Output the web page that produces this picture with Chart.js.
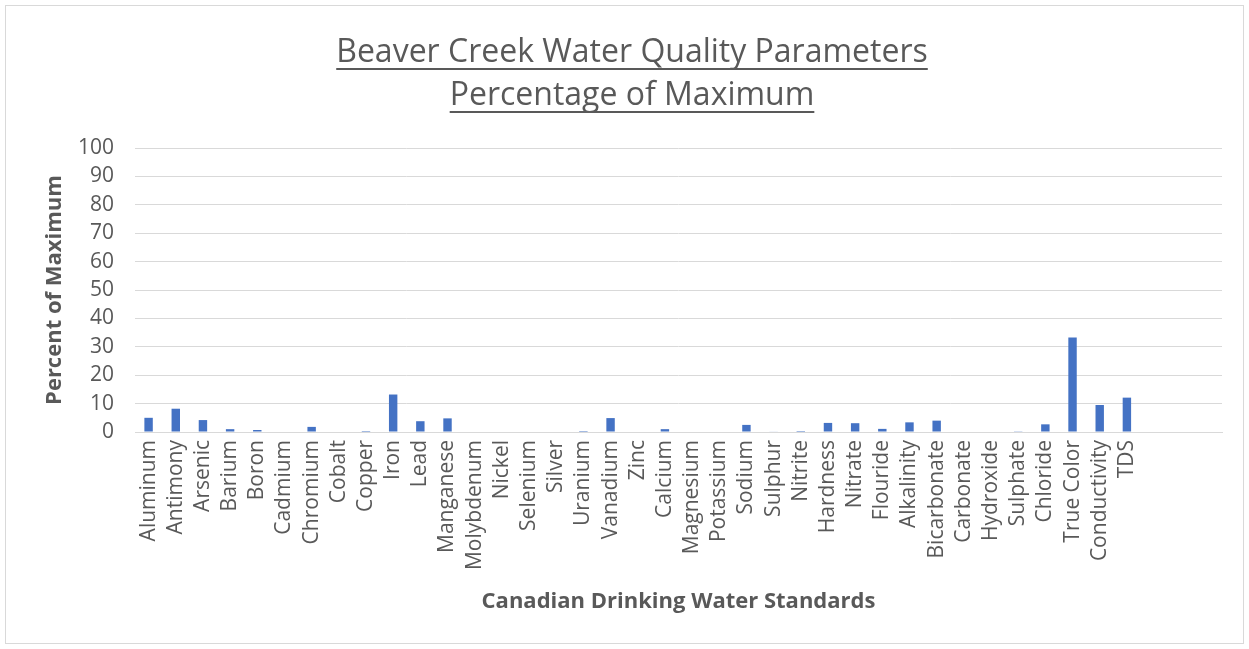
<!DOCTYPE html>
<html>
<head>
<meta charset="utf-8">
<script src="https://cdn.jsdelivr.net/npm/chart.js@4.4.1/dist/chart.umd.min.js"></script>
<style>
  html, body { margin: 0; padding: 0; background: #fff; }
  #wrap { position: absolute; left: 0; top: 0; width: 1249px; height: 649px; }
</style>
</head>
<body>
<div id="wrap"><canvas id="myChart" width="1249" height="649"></canvas></div>
<script>
// parameters along the x axis (last three slots are empty in the original)
var parameters = ["Aluminum","Antimony","Arsenic","Barium","Boron","Cadmium","Chromium","Cobalt","Copper","Iron",
  "Lead","Manganese","Molybdenum","Nickel","Selenium","Silver","Uranium","Vanadium","Zinc","Calcium",
  "Magnesium","Potassium","Sodium","Sulphur","Nitrite","Hardness","Nitrate","Flouride","Alkalinity","Bicarbonate",
  "Carbonate","Hydroxide","Sulphate","Chloride","True Color","Conductivity","TDS","","",""];

// percent of maximum
var percentOfMax = [5.0,8.2,4.2,1.0,0.7,0,1.8,0,0.35,13.2,
  3.8,4.8,0,0,0,0,0.35,4.9,0,1.0,
  0,0,2.5,0.15,0.35,3.2,3.1,1.1,3.4,4.0,
  0,0,0.1,2.7,33.3,9.5,12.1,null,null,null];

var yTicks = [0,10,20,30,40,50,60,70,80,90,100];

var titleLines = ["Beaver Creek Water Quality Parameters", "Percentage of Maximum"];

var textGray = "#595959";
var gridGray = "#d9d9d9";
var fontName = "'Open Sans', sans-serif";

// excel style underline under title + outer frame
var extras = {
  id: "extras",
  beforeDraw: function(chart) {
    var ctx = chart.ctx;
    ctx.save();
    ctx.strokeStyle = gridGray;
    ctx.lineWidth = 1;
    ctx.strokeRect(5.5, 5.5, 1238, 638);
    ctx.restore();
  },
  afterDraw: function(chart) {
    var tb = chart.titleBlock;
    var opts = chart.options.plugins.title;
    var size = opts.font.size;
    var lh = size * opts.font.lineHeight;
    var ctx = chart.ctx;
    ctx.save();
    ctx.font = size + "px " + fontName;
    ctx.strokeStyle = textGray;
    ctx.lineWidth = 2;
    var cx = (tb.left + tb.right) / 2;
    for (var i = 0; i < titleLines.length; i++) {
      var w = ctx.measureText(titleLines[i]).width;
      var y = Math.round(tb.top + opts.padding.top + lh * (i + 0.5) + size * 0.5);
      ctx.beginPath();
      ctx.moveTo(cx - w / 2, y);
      ctx.lineTo(cx + w / 2, y);
      ctx.stroke();
    }
    ctx.restore();
  }
};

var myChart = new Chart("myChart", {
  type: "bar",
  data: {
    labels: parameters,
    datasets: [{
      data: percentOfMax,
      backgroundColor: "#4472C4",
      borderWidth: 0,
      categoryPercentage: 1,
      barPercentage: 0.31
    }]
  },
  plugins: [extras],
  options: {
    responsive: false,
    animation: false,
    layout: { padding: { left: 42, right: 27, top: 0, bottom: 34 } },
    plugins: {
      legend: { display: false },
      tooltip: { enabled: false },
      title: {
        display: true,
        text: titleLines,
        color: textGray,
        font: { family: fontName, size: 32, weight: "normal", lineHeight: 1.36 },
        padding: { top: 31, bottom: 30 }
      }
    },
    scales: {
      x: {
        grid: { display: false, drawTicks: false },
        border: { display: true, color: gridGray },
        ticks: {
          color: textGray,
          font: { family: fontName, size: 21 },
          autoSkip: false,
          minRotation: 90,
          maxRotation: 90,
          padding: 8
        },
        title: {
          display: true,
          text: "Canadian Drinking Water Standards",
          color: textGray,
          font: { family: fontName, size: 22, weight: "bold" },
          padding: { top: 0, bottom: 0 }
        },
        afterFit: function(scale) { scale.height = 183; }
      },
      y: {
        min: 0,
        max: 100,
        afterBuildTicks: function(scale) {
          scale.ticks = yTicks.map(function(v) { return { value: v }; });
        },
        grid: { color: gridGray, drawTicks: false },
        border: { display: false },
        ticks: {
          color: textGray,
          font: { family: fontName, size: 21 },
          padding: 21
        },
        title: {
          display: true,
          text: "Percent of Maximum",
          color: textGray,
          font: { family: fontName, size: 22, weight: "bold" },
          padding: { top: 0, bottom: 0 }
        },
        afterFit: function(scale) { scale.width = 93; }
      }
    }
  }
});
</script>
</body>
</html>
